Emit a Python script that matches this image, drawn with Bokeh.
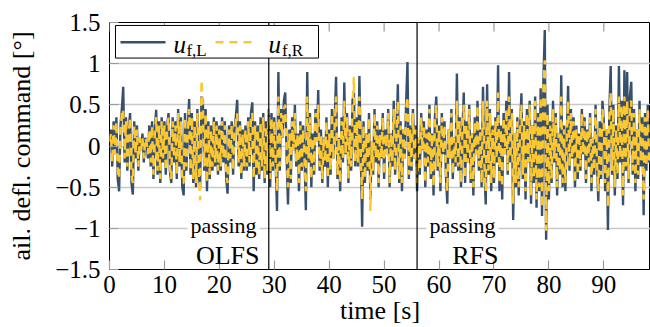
from bokeh.plotting import figure
from bokeh.models import (Span, Label, BoxAnnotation, Arrow,
                          FixedTicker, Range1d, ColumnDataSource)
from bokeh.embed import file_html
from bokeh.resources import INLINE

# ---------------- data ----------------
sample_step_s = 0.25
u_fL = [
    0.05, 0.20, -0.25, 0.30, -0.10, 0.35, -0.40, -0.55, 0.25, 0.45, 0.72, -0.20, 0.35, -0.30, 0.20, 0.40, -0.45, -0.59, 0.30, -0.15,
    0.25, -0.30, 0.10, -0.05, 0.15, -0.20, 0.10, 0.05, -0.15, 0.25, -0.25, 0.30, -0.40, 0.20, 0.44, -0.35, 0.30, -0.45, 0.35, -0.20,
    0.30, -0.35, 0.25, 0.40, -0.30, -0.45, 0.35, -0.20, 0.30, -0.40, 0.45, -0.25, 0.35, -0.50, -0.60, 0.40, -0.30, 0.20, 0.57, -0.35,
    0.40, -0.45, 0.30, -0.50, 0.45, -0.35, -0.50, 0.60, 0.55, -0.30, 0.45, -0.55, 0.30, -0.40, 0.25, -0.30, 0.35, -0.25, 0.30, -0.35,
    0.25, -0.30, 0.35, -0.20, 0.30, -0.40, -0.58, 0.25, -0.20, 0.30, -0.35, 0.20, 0.35, 0.56, -0.25, 0.30, -0.40, 0.20, -0.30, 0.25,
    -0.30, 0.35, -0.25, 0.40, 0.53, -0.55, 0.30, -0.35, 0.25, -0.40, 0.35, -0.30, 0.40, -0.45, 0.30, -0.35, 0.45, -0.50, 0.40, -0.30,
    0.35, -0.20, -0.79, 0.90, -0.30, 0.45, 0.10, 0.55, 0.65, -0.15, -0.71, 0.20, -0.45, 0.35, -0.05, 0.50, -0.25, 0.15, -0.55, 0.30,
    -0.30, 0.25, -0.10, -0.78, 0.90, -0.20, 0.40, -0.50, 0.15, -0.35, 0.45, 0.05, 0.68, -0.30, 0.20, -0.45, 0.10, -0.25, 0.35, -0.50,
    0.20, -0.35, 0.45, -0.15, 0.30, 0.84, -0.40, 0.10, -0.55, 0.35, -0.20, 0.77, -0.10, 0.40, -0.45, 0.25, -0.30, 0.55, 0.65, -0.25,
    0.35, -0.25, 0.85, -0.10, -0.98, 0.30, -0.45, 0.15, -0.30, 0.40, -0.65, 0.05, -0.35, 0.45, -0.20, 0.30, -0.50, 0.20, -0.15, 0.40,
    -0.40, 0.20, -0.10, 0.45, -0.50, 0.15, -0.25, 0.55, -0.35, 0.10, 0.75, -0.45, 0.30, -0.55, 0.20, -0.15, 0.50, 1.02, -0.40, 0.25,
    -0.30, 0.45, -0.15, 0.25, -0.55, 0.10, -0.35, 0.40, -0.05, 0.30, -0.50, 0.20, -0.25, 0.50, -0.40, 0.15, -0.60, 0.35, 0.60, -0.30,
    0.25, -0.55, 0.40, -0.10, 0.30, -0.35, -0.70, 0.20, -0.15, 0.45, -0.40, 0.10, -0.25, 0.88, -0.30, 0.35, -0.50, 0.15, 0.65, -0.45,
    0.30, -0.20, 0.50, -0.45, 0.15, -0.60, 0.35, -0.10, 0.55, -0.30, 0.20, -0.50, 0.72, -0.25, -0.71, 0.75, -0.35, 0.45, -0.55, 0.25,
    -0.45, 0.35, -0.20, 0.98, -0.55, 0.25, -0.65, 0.40, -0.10, 0.55, -0.35, 0.90, -0.20, 0.45, -0.90, 0.15, -0.50, 0.35, -0.60, 0.20,
    0.64, -0.40, 0.30, -0.65, 0.45, -0.20, 0.55, -0.70, 0.25, -0.45, 0.60, -0.75, 0.40, -0.55, 0.70, -0.85, 0.80, 1.41, -1.14, 0.50,
    -0.65, 0.30, -0.45, 0.55, -0.20, 0.40, -0.60, 0.15, -0.35, 0.86, -0.50, 0.25, -0.55, 0.10, 0.73, -0.30, 0.45, -0.15, 0.35, -0.50,
    0.25, -0.40, 0.15, -0.30, 0.45, -0.10, 0.35, -0.45, 0.20, -0.25, 0.40, -0.55, 0.10, -0.35, 0.50, -0.20, -0.67, 0.30, -0.40, 0.55,
    0.30, -0.55, 0.20, -1.02, 0.40, 0.97, -0.35, 0.50, -0.60, 0.25, -0.40, 0.97, -0.20, 0.55, -0.72, 0.92, -0.30, 0.90, -0.45, 0.60,
    0.78, -0.35, 0.45, -0.55, 0.20, -0.40, 0.55, -0.25, 0.35, -0.84, 0.40, -0.30, 0.50, -0.20,
]
u_fR = [
    0.05, 0.15, -0.20, 0.25, -0.10, 0.30, -0.30, -0.40, 0.20, 0.40, 0.45, -0.15, 0.30, -0.25, 0.15, 0.35, -0.35, -0.45, 0.25, -0.10,
    0.20, -0.25, 0.10, -0.05, 0.10, -0.15, 0.10, 0.05, -0.10, 0.20, -0.20, 0.25, -0.35, 0.15, 0.35, -0.30, 0.25, -0.40, 0.30, -0.15,
    0.25, -0.30, 0.20, 0.35, -0.25, -0.40, 0.30, -0.15, 0.25, -0.35, 0.40, -0.20, 0.30, -0.45, -0.45, 0.35, -0.25, 0.15, 0.45, -0.30,
    0.35, -0.40, 0.25, -0.45, 0.40, -0.30, -0.66, 0.80, 0.50, -0.25, 0.40, -0.45, 0.25, -0.35, 0.20, -0.25, 0.30, -0.20, 0.25, -0.30,
    0.20, -0.25, 0.30, -0.15, 0.25, -0.35, -0.45, 0.20, -0.15, 0.25, -0.30, 0.15, 0.30, 0.40, -0.20, 0.25, -0.35, 0.15, -0.25, 0.20,
    -0.25, 0.30, -0.20, 0.35, 0.40, -0.40, 0.25, -0.30, 0.20, -0.35, 0.30, -0.25, 0.35, -0.40, 0.25, -0.30, 0.45, -0.40, 0.35, -0.25,
    0.30, -0.15, -0.55, 0.60, -0.25, 0.40, 0.10, 0.45, 0.50, -0.10, -0.50, 0.15, -0.40, 0.30, -0.05, 0.40, -0.20, 0.15, -0.45, 0.25,
    -0.25, 0.20, -0.10, -0.55, 0.60, -0.15, 0.35, -0.40, 0.10, -0.30, 0.40, 0.05, 0.50, -0.25, 0.15, -0.40, 0.10, -0.20, 0.30, -0.40,
    0.15, -0.30, 0.40, -0.15, 0.25, 0.60, -0.35, 0.10, -0.45, 0.30, -0.15, 0.55, -0.10, 0.35, -0.40, 0.20, -0.25, 0.50, 0.84, -0.20,
    0.30, -0.20, 0.60, -0.10, -0.65, 0.25, -0.40, 0.15, -0.25, 0.35, -0.79, 0.05, -0.30, 0.40, -0.15, 0.25, -0.45, 0.15, -0.15, 0.35,
    -0.35, 0.15, -0.10, 0.40, -0.45, 0.15, -0.20, 0.45, -0.30, 0.10, 0.55, -0.40, 0.25, -0.45, 0.20, -0.15, 0.45, 0.60, -0.35, 0.20,
    -0.25, 0.40, -0.15, 0.20, -0.45, 0.10, -0.30, 0.35, -0.05, 0.25, -0.45, 0.15, -0.20, 0.45, -0.35, 0.15, -0.50, 0.30, 0.50, -0.25,
    0.20, -0.45, 0.35, -0.10, 0.25, -0.30, -0.55, 0.20, -0.15, 0.40, -0.35, 0.10, -0.20, 0.55, -0.25, 0.30, -0.45, 0.15, 0.50, -0.40,
    0.25, -0.20, 0.45, -0.40, 0.15, -0.50, 0.30, -0.10, 0.50, -0.25, 0.20, -0.45, 0.55, -0.20, -0.55, 0.55, -0.30, 0.40, -0.45, 0.20,
    -0.40, 0.30, -0.15, 0.65, -0.45, 0.20, -0.50, 0.35, -0.10, 0.45, -0.30, 0.60, -0.15, 0.40, -0.70, 0.15, -0.45, 0.30, -0.50, 0.20,
    0.50, -0.35, 0.25, -0.55, 0.40, -0.20, 0.50, -0.60, 0.25, -0.40, 0.55, -0.65, 0.35, -0.50, 0.60, -0.75, 0.70, 1.04, -1.03, 0.40,
    -0.55, 0.25, -0.40, 0.45, -0.15, 0.35, -0.50, 0.15, -0.30, 0.60, -0.45, 0.20, -0.45, 0.10, 0.55, -0.25, 0.40, -0.15, 0.30, -0.45,
    0.20, -0.35, 0.15, -0.25, 0.40, -0.10, 0.30, -0.40, 0.20, -0.20, 0.35, -0.45, 0.10, -0.30, 0.45, -0.20, -0.55, 0.25, -0.35, 0.45,
    0.25, -0.45, 0.20, -0.75, 0.35, 0.65, -0.30, 0.45, -0.50, 0.20, -0.35, 0.60, -0.15, 0.50, -0.60, 0.60, -0.25, 0.55, -0.40, 0.50,
    0.55, -0.30, 0.40, -0.45, 0.20, -0.35, 0.45, -0.20, 0.30, -0.65, 0.35, -0.25, 0.45, -0.20,
]
time_s = [i * sample_step_s for i in range(len(u_fL))]

x_ticks = [0, 10, 20, 30, 40, 50, 60, 70, 80, 90]
y_ticks = [-1.5, -1.0, -0.5, 0.0, 0.5, 1.0, 1.5]
y_tick_labels = ["\u22121.5", "\u22121", "\u22120.5", "0", "0.5", "1", "1.5"]
event_times = [29.0, 56.0]
event_names = ["OLFS", "RFS"]

# ---------------- styling ----------------
DARK = "#36506e"
YELLOW = "#fdc72f"
FONT = "Liberation Serif"
X_MAX, Y_MIN, Y_MAX = 98.5, -1.5, 1.5

p = figure(width=650, height=327, output_backend="svg", toolbar_location=None,
           x_range=Range1d(0, X_MAX), y_range=Range1d(Y_MIN, Y_MAX),
           min_border_left=109, min_border_right=0, min_border_top=22,
           min_border_bottom=55)
p.background_fill_color = "white"
p.border_fill_color = "white"
p.outline_line_color = "black"
p.outline_line_width = 1

src = ColumnDataSource(dict(t=time_s, uL=u_fL, uR=u_fR))
p.line("t", "uL", source=src, line_color=DARK, line_width=2.4)
p.line("t", "uR", source=src, line_color=YELLOW, line_width=2.4, line_dash="8 6")

# axes
p.xaxis.ticker = FixedTicker(ticks=x_ticks)
p.yaxis.ticker = FixedTicker(ticks=y_ticks)
p.yaxis.major_label_overrides = {v: s for v, s in zip(y_ticks, y_tick_labels)}
for ax in (p.xaxis[0], p.yaxis[0]):
    ax.axis_line_color = None
    ax.major_tick_in = 9
    ax.major_tick_out = 0
    ax.minor_tick_line_color = None
    ax.major_tick_line_color = "#9a9a9a"
    ax.major_tick_line_width = 1.2
    ax.major_label_text_font = FONT
    ax.major_label_text_font_size = "25px"
    ax.major_label_text_color = "black"
    ax.axis_label_text_font = FONT
    ax.axis_label_text_font_size = "26px"
    ax.axis_label_text_font_style = "normal"
    ax.axis_label_text_color = "black"
p.xaxis.axis_label = "time [s]"
p.yaxis.axis_label = "ail. defl. command [°]"
p.xaxis.major_label_standoff = 6
p.xaxis.axis_label_standoff = 0
p.yaxis.major_label_standoff = 9
p.yaxis.axis_label_standoff = 16

# inner tick marks along the top edge, at the x tick positions
top_tick_len = 0.11
p.segment(x0=x_ticks, y0=[Y_MAX] * len(x_ticks), x1=x_ticks,
          y1=[Y_MAX - top_tick_len] * len(x_ticks),
          line_color="#9a9a9a", line_width=1.2)

p.xgrid.grid_line_color = None
p.ygrid.ticker = FixedTicker(ticks=y_ticks)
p.ygrid.grid_line_color = "#c8c8c8"
p.ygrid.grid_line_width = 1.3

# event markers
for t_ev in event_times:
    p.add_layout(Span(location=t_ev, dimension="height", line_color="black",
                      line_width=1.2))

for x_txt, name in [(27.31, event_names[0]), (70.83, event_names[1])]:
    p.add_layout(Label(x=x_txt, y=-0.966, text="passing", text_align="right",
                       text_baseline="alphabetic", text_font=FONT,
                       text_font_size="22px", text_color="black",
                       background_fill_color="white", padding=3))
    p.add_layout(Label(x=x_txt, y=-1.336, text=name, text_align="right",
                       text_baseline="alphabetic", text_font=FONT,
                       text_font_size="26px", text_color="black"))

# legend (drawn by hand for the subscripts)
p.add_layout(BoxAnnotation(left=1.09, right=38.05, top=1.464, bottom=1.068,
                           fill_color="white", fill_alpha=1.0,
                           line_color="black", line_width=1, line_alpha=1.0))
p.add_layout(Arrow(x_start=2.0, y_start=1.26, x_end=10.2, y_end=1.26, end=None,
                   line_color=DARK, line_width=2.4))
p.add_layout(Arrow(x_start=19.3, y_start=1.26, x_end=26.95, y_end=1.26, end=None,
                   line_color=YELLOW, line_width=2.4, line_dash="8 6"))
for xu, xs, sub in [(11.65, 14.0, "f,L"), (28.95, 31.4, "f,R")]:
    p.add_layout(Label(x=xu, y=1.228, text="u", text_font=FONT,
                       text_font_style="italic", text_font_size="25px",
                       text_color="black", text_baseline="alphabetic"))
    p.add_layout(Label(x=xs, y=1.164, text=sub, text_font=FONT,
                       text_font_size="17px", text_color="black",
                       text_baseline="alphabetic"))

open("out.html", "w").write(file_html(p, INLINE))
